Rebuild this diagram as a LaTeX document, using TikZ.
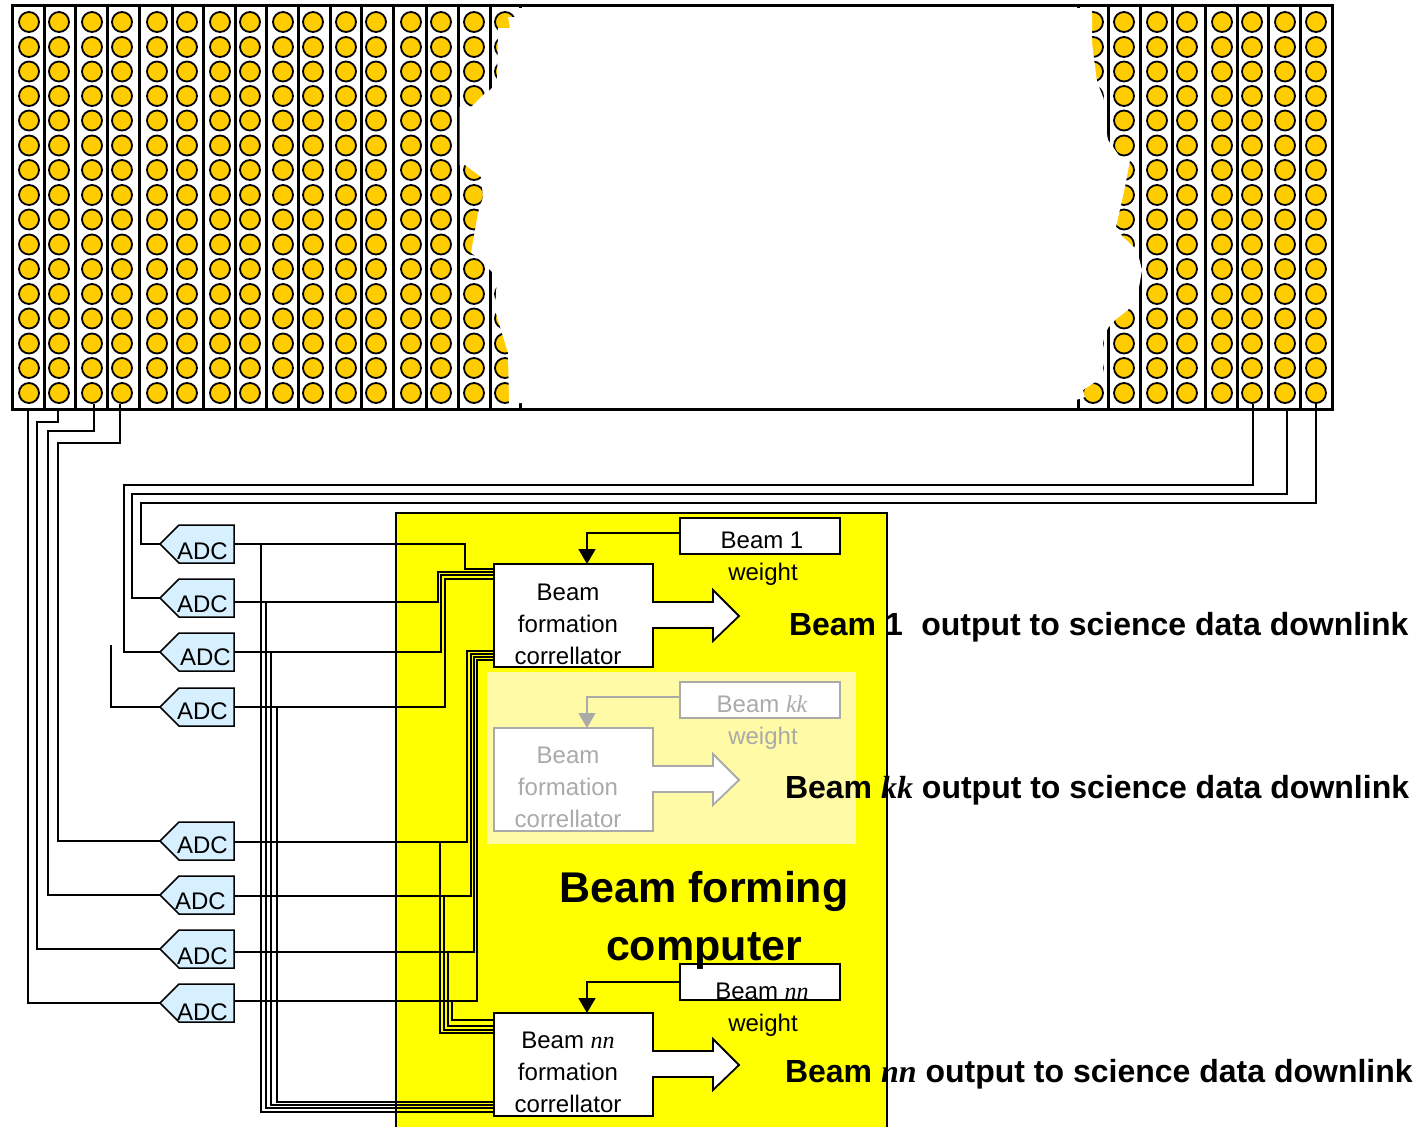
\documentclass[tikz,border=0pt]{standalone}
\usepackage{fontspec}
\setmainfont{Liberation Sans}
\newfontfamily\serifvar{Liberation Serif}
\usepackage[dvipsnames]{xcolor}
\usetikzlibrary{positioning,arrows.meta,calc,shapes.symbols}
\definecolor{elemgold}{RGB}{255,204,0}
\definecolor{adcblue}{RGB}{214,240,255}
\definecolor{compyellow}{RGB}{255,255,0}
\definecolor{paleyellow}{RGB}{255,250,165}
\definecolor{paleline}{RGB}{170,170,170}
\tikzset{
  elem/.style={circle,draw,fill=elemgold,line width=1.8pt,minimum size=20pt,inner sep=0pt,outer sep=0pt},
  tile/.style={line width=3pt},
  wire/.style={line width=1.5pt},
  adc/.style={signal,signal to=west,signal from=nowhere,signal pointer angle=90,draw,fill=adcblue,
    line width=1.5pt,minimum width=74pt,minimum height=38pt,inner sep=0pt,outer sep=0pt,anchor=east,
    font=\fontsize{24}{28}\selectfont},
  corrbox/.style={draw,fill=white,line width=1.8pt,minimum width=159pt,minimum height=103pt,inner sep=0pt,outer sep=0pt,anchor=north west},
  weightbox/.style={draw,fill=white,line width=1.8pt,minimum width=160pt,minimum height=36pt,inner sep=0pt,outer sep=0pt,anchor=north west,
    font=\fontsize{24}{28}\selectfont},
  plain/.style={inner sep=0pt,outer sep=0pt,font=\fontsize{24}{32}\selectfont,align=center},
  outlabel/.style={inner sep=0pt,outer sep=0pt,anchor=west,font=\fontsize{32}{36}\selectfont\bfseries},
}
\begin{document}
\begin{tikzpicture}[x=1pt,y=-1pt]
  \useasboundingbox (0,0) rectangle (1418,1127);
  % antenna tiles
  \foreach \lx in {44,75,107,139,172,203,235,266,298,330,361,393,426,458,490,520,1078,1108,1140,1172,1205,1237,1268,1300}
    \draw[tile] (\lx,5) -- (\lx,409);
  \foreach \cx [count=\i] in {29,59,92,122,157,187,220,250,283,313,346,376,411,441,474,505,1093,1124,1157,1187,1222,1252,1285,1316}
    \foreach \cy [count=\j] in {22,47,71.5,96,120.5,145.5,170,195,219.5,244.5,269,294,318.5,343.5,368,393}
      \node[elem] (e\i-\j) at (\cx,\cy) {};
  \fill[white] (522,8) -- (515,8) -- (515,17) -- (508,17) -- (510,28) -- (498,28) -- (497,82) -- (490,90) -- (483,95) -- (471,107)
    -- (459.5,107) -- (459.5,165) -- (465,165) -- (481,177) -- (483,197) -- (478,213) -- (471,253) -- (477,257) -- (488,268)
    -- (497,277) -- (495,310) -- (508,353) -- (509,403) -- (522,403) -- (522,407.5) -- (1076,407.5) -- (1076,400) -- (1085,397)
    -- (1083,390) -- (1103,377) -- (1103,340) -- (1108,328) -- (1115,320) -- (1128,310) -- (1138,293) -- (1142,270) -- (1137,250)
    -- (1123,237) -- (1116,227) -- (1125,187) -- (1130,160) -- (1120,157) -- (1108,140) -- (1105,123) -- (1103,97) -- (1097,82)
    -- (1092,43) -- (1092,8) -- cycle;
  \draw[line width=3pt] (12,5) rectangle (1332,409);
  % beam forming computer
  \fill[compyellow] (396,513) rectangle (887,1127);
  \draw[line width=1.8pt] (396,1127) -- (396,513) -- (887,513) -- (887,1127);
  \fill[paleyellow] (487,672) rectangle (856,844);
  % converters
  \foreach \a/\ay/\rs/\pd in {A/544/7/4,B/598/6/4,C/652/5/1,D/707/4/4,E/841/4/4,F/895/6/6,G/949/7/4,H/1003/9/4}
    \node[adc] (adc\a) at (234,\ay) {\makebox[51pt][l]{\hspace*{-\pd pt}\raisebox{-\rs pt}[17pt][0pt]{ADC}}};
  % tile outputs to converters
  \foreach \c/\dx/\dy/\ly/\vx/\a in {1/-1/6/420/28/H,2/-1/6/422/37/G,3/2/1/431/48/F,4/-2/1/443/58/E,22/1/1/485/124/C,23/2/6/494/132/B,24/0/1/503/141/A}
    \draw[wire] ([shift={(\dx,\dy)}]e\c-16.south) |- (\vx,\ly) |- (adc\a.west);
  \coordinate (freeD) at (111,645);
  \draw[wire] (freeD) |- (adcD.west);
  % correlators and weights
  \foreach \nm/\dy/\wy/\by/\ws/\ct/\wt/\lbl/\ctxt/\col in {A/0/0/540/3/624/574/1/Beam/black,K/164/164/704/3/787/738/{\serifvar\itshape kk}/Beam/paleline,N/449/446/991/0/1072/1025/{\serifvar\itshape nn}/{Beam {\serifvar\itshape nn}}/black}{
    \node[corrbox,draw=\col] (corr\nm) at (494,564+\dy) {};
    \node[plain,text=\col] (corr\nm text) at (568,\ct) {\ctxt\\formation\\correllator};
    \node[weightbox,draw=\col,text=\col] (weight\nm) at (680,518+\wy) {};
    \node[plain,text=\col] (beam\nm) at (762,\by) {Beam \lbl};
    \node[plain,text=\col] (weight\nm text) at (763,\wt) {weight};
    \draw[wire,draw=\col,-{Triangle[length=15pt,width=17pt]}] ([yshift=\ws pt]weight\nm.west) -| (corr\nm.north -| 587,0);
    \draw[line width=1.8pt,draw=\col,fill=white] ([xshift=-1pt]corr\nm.east |- 0,602+\dy) -- (713,602+\dy) -- (713,590+\dy)
      -- (739,616+\dy) -- (713,641+\dy) -- (713,628+\dy) -- ([xshift=-1pt]corr\nm.east |- 0,628+\dy);
  }
  % wires into first correlator
  \foreach \a/\wy/\vx/\ey in {A/544/465/569,B/602/438/572,C/652/441/575,D/707/445/579,E/842/467/651,F/896/471/654,G/952/474/657,H/1001/477/660}
    \draw[wire] (adc\a.east |- 0,\wy) -| (\vx,\ey) -- (corrA.west |- 0,\ey);
  % wires into last correlator
  \foreach \a/\wy/\vx/\ey in {A/544/261/1112,B/602/266/1108,C/652/271/1105,D/707/277/1102,E/842/440/1033,F/896/444/1030,G/952/448/1026,H/1001/452/1020}
    \draw[wire] (adc\a.east |- 0,\wy) -| (\vx,\ey) -- (corrN.west |- 0,\ey);
  \node[plain,font=\fontsize{43}{58}\selectfont\bfseries] (computer) at (704,920) {Beam forming\\computer};
  \node[outlabel] (outA) at (789,627) {Beam 1\hspace{0.3em} output to science data downlink};
  \node[outlabel] (outK) at (785,790) {Beam {\serifvar\itshape kk} output to science data downlink};
  \node[outlabel] (outN) at (785,1074) {Beam {\serifvar\itshape nn} output to science data downlink};
\end{tikzpicture}
\end{document}
